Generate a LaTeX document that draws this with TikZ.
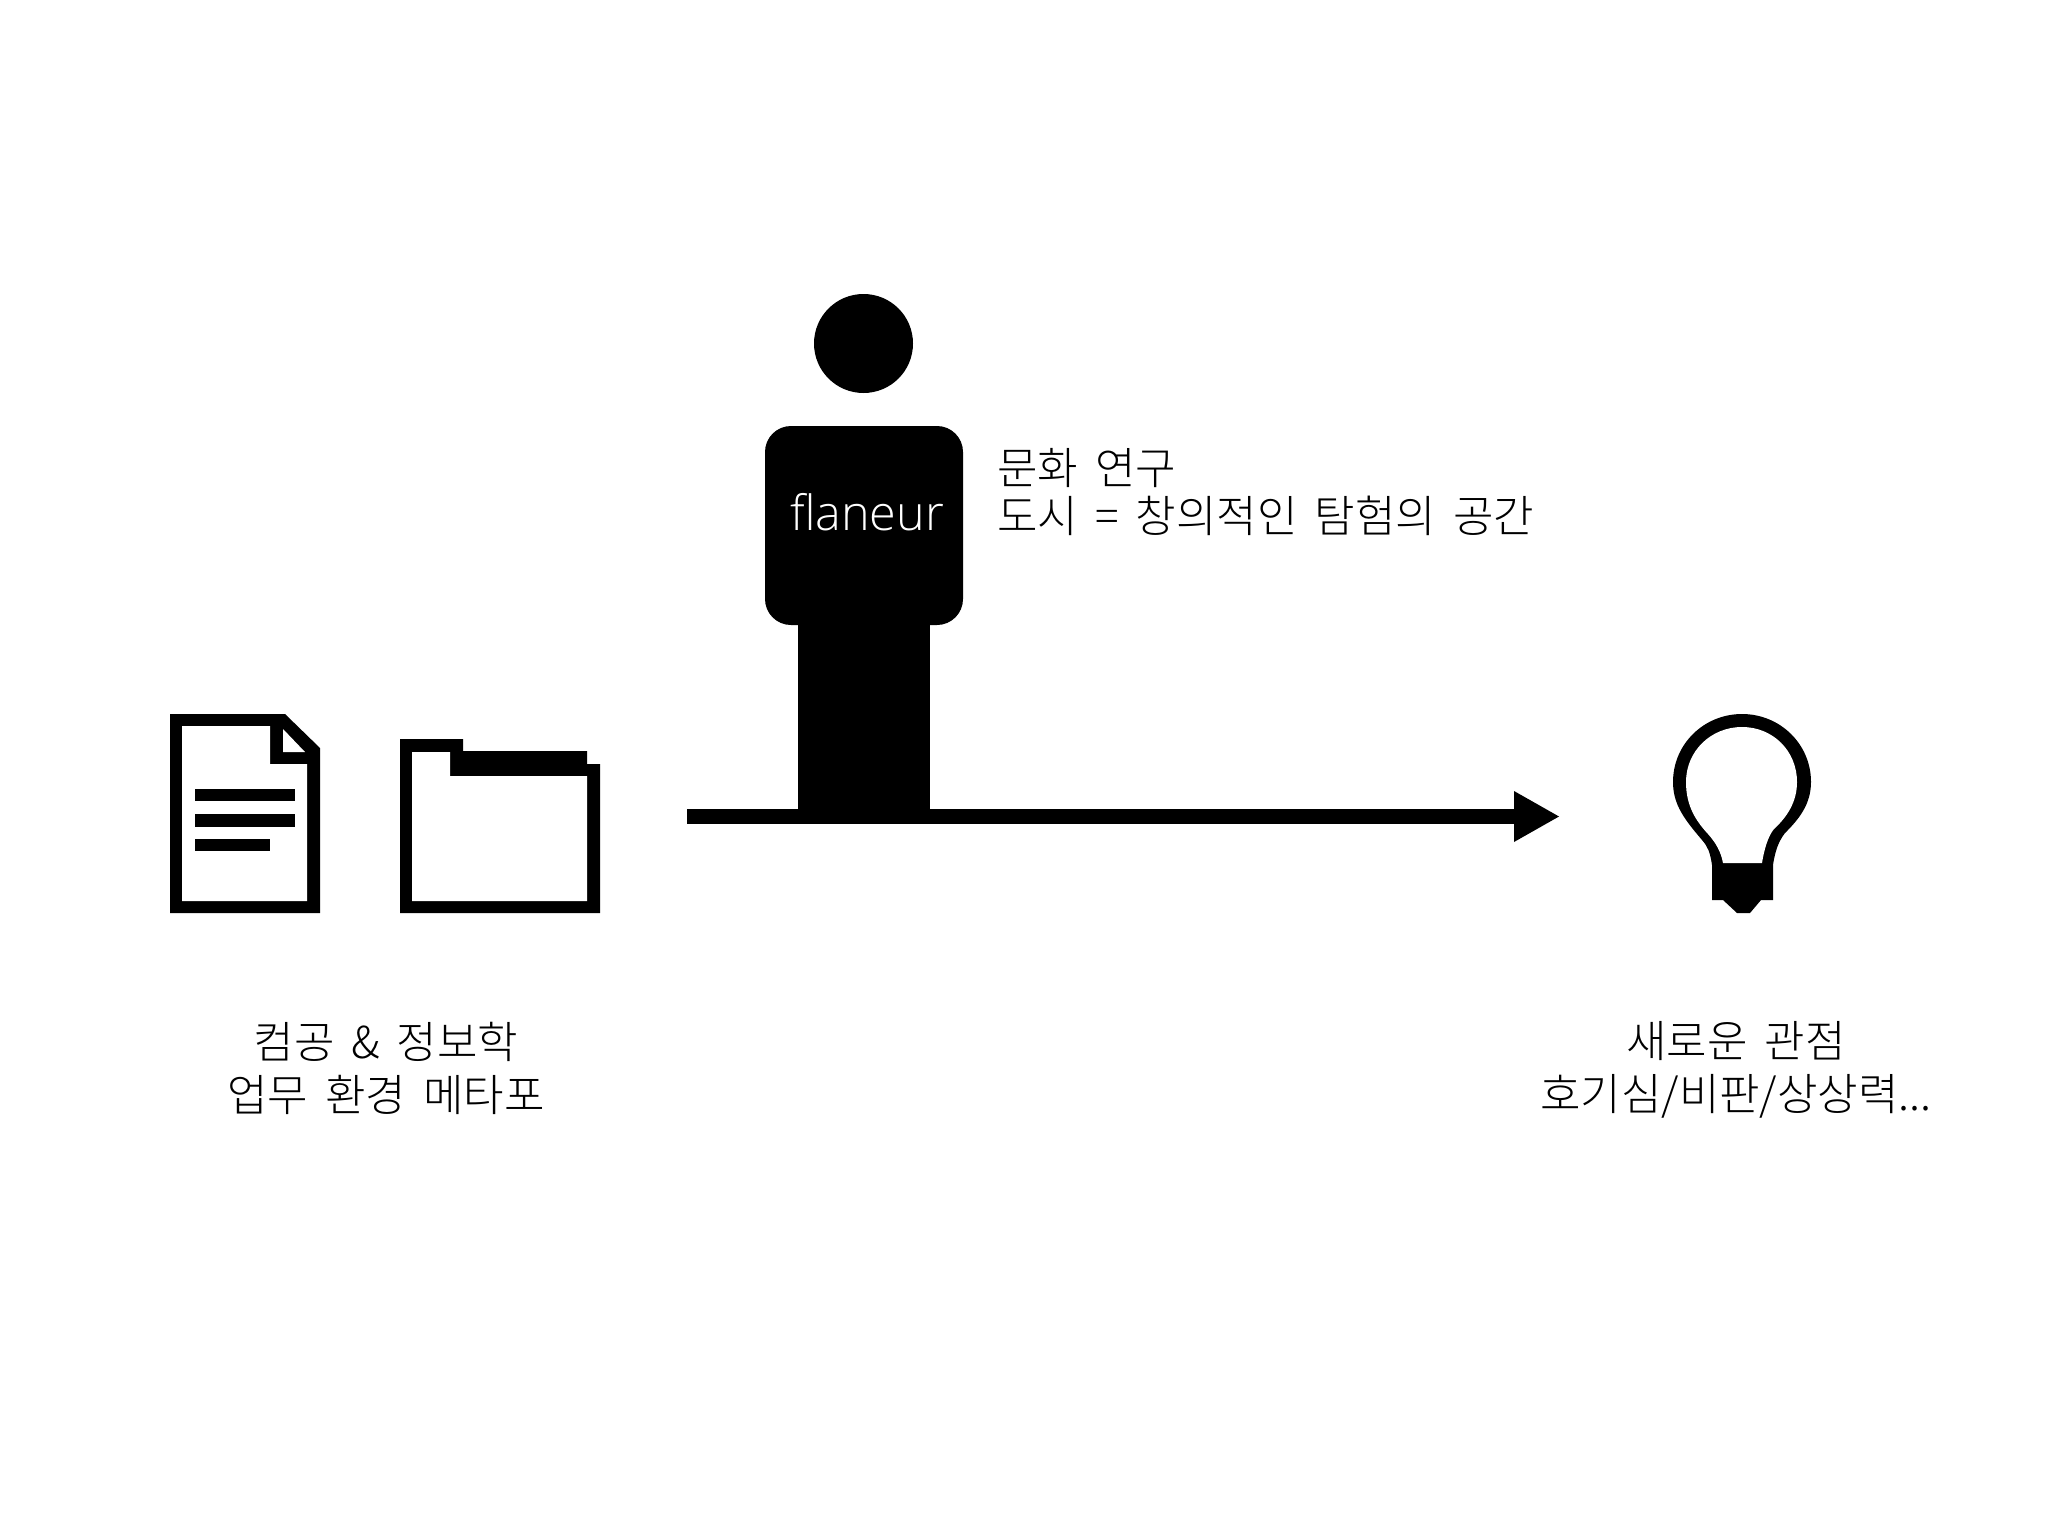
\documentclass[tikz,border=0pt]{standalone}
\usepackage{fontspec}
\setmainfont{Open Sans Light}
\newfontfamily\kr[WordSpace=1.75]{Noto Sans CJK KR Light}
\tikzset{
 lab/.style={align=center,text=black,inner sep=0pt},
 labA/.style={lab,font=\kr\fontsize{44}{48}\selectfont},
 labB/.style={lab,font=\kr\fontsize{44}{53}\selectfont}}
\begin{document}
\begin{tikzpicture}[x=1pt,y=-1pt]
\useasboundingbox (0,0) rectangle (2048,1536);
\fill[white] (0,0) rectangle (2048,1536);
% person
\fill (863.5,343.5) circle (49.5);
\fill[rounded corners=26] (765,426) rectangle (963,625);
\fill (798,620) rectangle (930,815);
\node[text=white,font=\fontsize{48.5}{54}\selectfont,inner sep=0pt] (fl) at (867,512) {flaneur};
\node[labA,align=left,anchor=west] (t1) at (997,492) {문화 연구\\도시 = 창의적인 탐험의 공간};
% axis
\coordinate (a) at (687,816.5);
\coordinate (b) at (1559,816.5);
\draw[line width=15] (a) -- (1520,816.5);
\fill (1514,791) -- (b) -- (1514,842) -- cycle;
% document
\fill (170,714) -- (285,714) -- (320,748) -- (320,913) -- (170,913) -- cycle;
\fill[white] (182,726) -- (270,726) -- (270,764) -- (307,764) -- (307,901) -- (182,901) -- cycle;
\fill[white] (283,729) -- (283,752) -- (305,752) -- cycle;
\fill (195,789) rectangle (295,801);
\fill (195,814) rectangle (295,827);
\fill (195,839) rectangle (270,851);
% folder
\fill (400,739) -- (463,739) -- (463,751) -- (587,751) -- (587,764) -- (600,764) -- (600,913) -- (400,913) -- cycle;
\fill[white] (412,752) -- (450,752) -- (450,776) -- (587,776) -- (587,901) -- (412,901) -- cycle;
% bulb
\fill (1712,900) -- (1712,865) .. controls (1710,852) and (1708,847) .. (1702,840)
 .. controls (1685,820) and (1673,805) .. (1673,782)
 .. controls (1673,744) and (1704,714) .. (1742,714)
 .. controls (1780,714) and (1811,744) .. (1811,782)
 .. controls (1811,805) and (1798,820) .. (1785,833)
 .. controls (1778,842) and (1775,852) .. (1773,865)
 -- (1773,900) -- (1761,900) -- (1750,913) -- (1737,913) -- (1723,900) -- cycle;
\fill[white] (1723,863) .. controls (1721,852) and (1716,843) .. (1708,834)
 .. controls (1695,820) and (1686,805) .. (1686,782)
 .. controls (1686,751) and (1711,727) .. (1742,727)
 .. controls (1773,727) and (1797,751) .. (1797,782)
 .. controls (1797,802) and (1787,817) .. (1774,829)
 .. controls (1768,836) and (1764,850) .. (1762,863) -- cycle;
\node[labB] (t2) at (386,1068) {컴공 \& 정보학\\업무 환경 메타포};
\node[labB] (t3) at (1736,1069.5) {새로운 관점\\호기심/비판/상상력...};
\end{tikzpicture}
\end{document}
